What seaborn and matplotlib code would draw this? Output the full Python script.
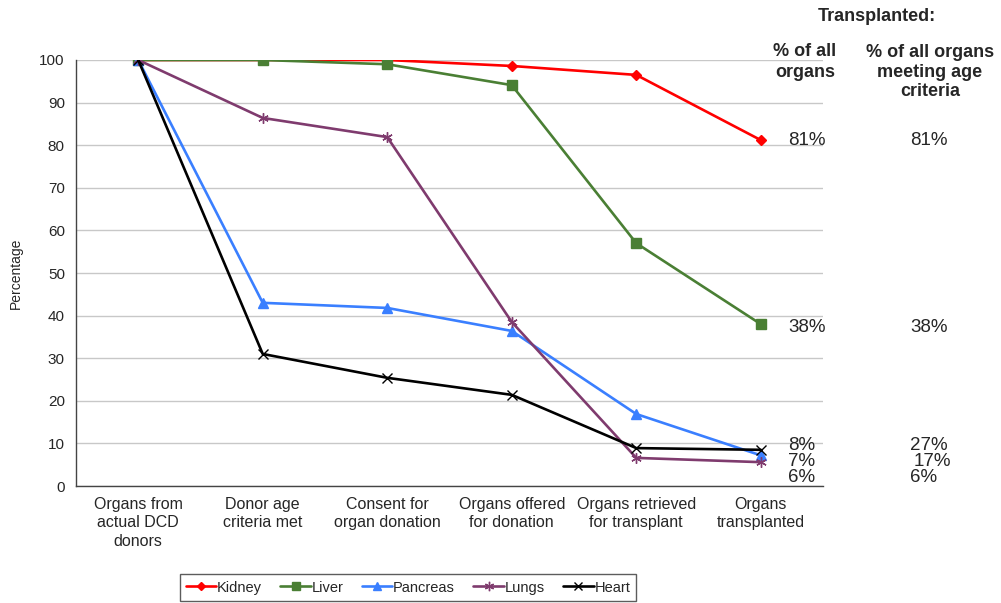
import numpy as np
import pandas as pd
import seaborn as sns
import matplotlib.pyplot as plt

# --- data ---
stages = ['Organs from\nactual DCD\ndonors', 'Donor age\ncriteria met', 'Consent for\norgan donation',
          'Organs offered\nfor donation', 'Organs retrieved\nfor transplant', 'Organs\ntransplanted']
kidney = [100, 100, 100, 98.6, 96.5, 81.2]
liver = [100, 100, 99.0, 94.1, 57.0, 38.0]
pancreas = [100, 43.0, 41.8, 36.4, 16.9, 7.2]
lungs = [100, 86.4, 81.9, 38.5, 6.6, 5.6]
heart = [100, 31.0, 25.4, 21.4, 8.9, 8.5]

organs = ['Kidney', 'Liver', 'Pancreas', 'Lungs', 'Heart']
pct_all = ['81%', '38%', '8%', '7%', '6%']
pct_age = ['81%', '38%', '27%', '17%', '6%']
label_y = [81.0, 37.2, 9.5, 5.7, 2.0]

colores = {'Kidney': '#ff0000', 'Liver': '#4a7f34', 'Pancreas': '#3a7fff',
           'Lungs': '#7f3b6e', 'Heart': '#000000'}
marcadores = {'Kidney': 'D', 'Liver': 's', 'Pancreas': '^', 'Lungs': (6, 2, 0), 'Heart': 'x'}
tamanos = {'Kidney': 5, 'Liver': 6.5, 'Pancreas': 7, 'Lungs': 7.5, 'Heart': 7}

sns.set_style('white')
plt.rcParams['font.family'] = ['Liberation Sans', 'DejaVu Sans']

series = dict(zip(organs, [kidney, liver, pancreas, lungs, heart]))
df = pd.DataFrame([(o, i, v) for o in organs for i, v in enumerate(series[o])],
                  columns=['organ', 'etapa', 'pct'])

fig = plt.figure(figsize=(10.01, 6.03), dpi=100)
ax = fig.add_axes([0.0759, 0.194, 0.7463, 0.7065])

for o in organs:
    d = df[df['organ'] == o]
    sns.lineplot(data=d, x='etapa', y='pct', ax=ax, color=colores[o], marker=marcadores[o],
                 markersize=tamanos[o], markeredgecolor=colores[o], markeredgewidth=1.0,
                 linewidth=1.9, label=o)

ax.set_xlim(-0.5, len(stages) - 0.5)
ax.set_ylim(0, 100)
ax.set_yticks(np.arange(0, 101, 10))
ax.yaxis.grid(True, color='#c8c8c8', linewidth=1)
ax.set_axisbelow(True)

# etiquetas centradas, marcas entre categorias
ax.set_xticks(np.arange(len(stages)))
ax.set_xticklabels(stages, fontsize=11.5, linespacing=1.28)
ax.set_xticks(np.arange(len(stages) + 1) - 0.5, minor=True)
ax.tick_params(axis='x', which='major', length=0, pad=8)
ax.tick_params(axis='x', which='minor', length=5, width=1, color='#555555', direction='out')
ax.tick_params(axis='y', length=4, width=1, color='#555555', direction='out', labelsize=11, pad=4)
ax.set_xlabel('')
ax.set_ylabel('Percentage', fontsize=10, labelpad=12)

for s in ['top', 'right']:
    ax.spines[s].set_visible(False)
for s in ['left', 'bottom']:
    ax.spines[s].set_color('#444444')
    ax.spines[s].set_linewidth(1)

# anotaciones a la derecha
for a, b, yv in zip(pct_all, pct_age, label_y):
    ax.text(5.22, yv, a, fontsize=13.5, va='center', ha='left', clip_on=False)
    ax.text(6.2 if b != '17%' else 6.225, yv, b, fontsize=13.5, va='center', ha='left', clip_on=False)

fig.text(0.876, 0.972, 'Transplanted:', fontsize=13, weight='bold', ha='center', va='center')
fig.text(0.804, 0.897, '% of all\norgans', fontsize=13, weight='bold', ha='center', va='center',
         linespacing=1.25)
fig.text(0.929, 0.880, '% of all organs\nmeeting age\ncriteria', fontsize=13, weight='bold',
         ha='center', va='center', linespacing=1.2)

leg = ax.legend(loc='center', bbox_to_anchor=(0.4076, 0.0257), bbox_transform=fig.transFigure,
                ncol=5, frameon=True, fancybox=False, fontsize=10.5, handlelength=2.1,
                handletextpad=0.05, columnspacing=1.25, borderpad=0.42, markerscale=0.9)
leg.get_frame().set_edgecolor('#333333')
leg.get_frame().set_linewidth(1)

plt.savefig('out.png', dpi=100)
plt.close()
